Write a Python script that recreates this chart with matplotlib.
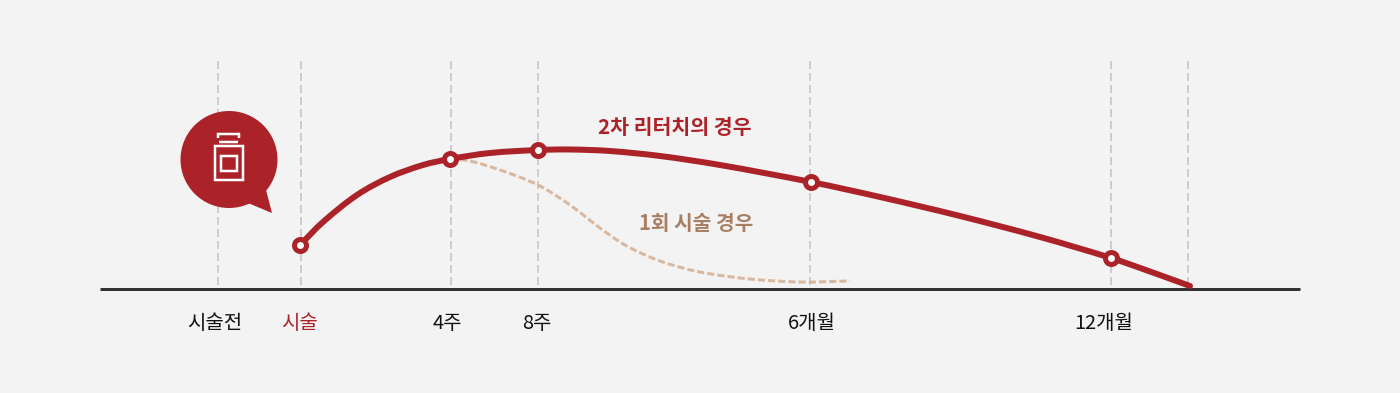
import matplotlib
matplotlib.use('Agg')
from matplotlib import pyplot as plt
from matplotlib.patches import Circle, PathPatch, Polygon, Rectangle
from matplotlib.path import Path

plt.rcParams['font.family'] = ['Noto Sans CJK KR', 'DejaVu Sans']

retouch_x = [300, 323, 357, 390, 423, 450, 490, 538, 570, 610, 660, 720, 811, 880, 960, 1040, 1111, 1150, 1190]
retouch_y = [245, 222, 195, 177, 165, 159, 153, 150, 149.5, 151, 156, 165, 182, 197, 216, 237, 258, 271.5, 286]
once_x = [450, 470, 500, 538, 570, 600, 625, 660, 700, 750, 800, 850]
once_y = [159, 161, 170, 185, 205, 228, 245, 261, 272, 279, 282, 281]

point_x = [300, 450, 538, 811, 1111]
point_y = [245, 159, 150, 182, 258]

guide_x = [218, 301, 451, 538, 810, 1111, 1188]
tick_x = [214.5, 299.5, 447.5, 536.5, 811.5, 1103.5]
tick_labels = ['시술전', '시술', '4주', '8주', '6개월', '12개월']
tick_colors = ['#111111', '#ab2328', '#111111', '#111111', '#111111', '#111111']

RED = '#ab2328'
TAN = '#d9b8a0'
px = 0.72  # one pixel in points


def smooth_path(xs, ys):
    # bezier through the read points, so the line has no corners
    verts = [(xs[0], ys[0])]
    codes = [Path.MOVETO]
    n = len(xs)
    for i in range(n - 1):
        a = max(i - 1, 0)
        b = min(i + 2, n - 1)
        h = xs[i + 1] - xs[i]
        s0 = (ys[i + 1] - ys[a]) / (xs[i + 1] - xs[a])
        s1 = (ys[b] - ys[i]) / (xs[b] - xs[i])
        verts += [(xs[i] + h / 3, ys[i] + s0 * h / 3),
                  (xs[i + 1] - h / 3, ys[i + 1] - s1 * h / 3),
                  (xs[i + 1], ys[i + 1])]
        codes += [Path.CURVE4] * 3
    return Path(verts, codes)


fig = plt.figure(figsize=(14, 3.93), dpi=100, facecolor='#f3f3f3')
ax = fig.add_axes([0, 0, 1, 1])
ax.set_xlim(0, 1400)
ax.set_ylim(393, 0)
ax.axis('off')

ax.vlines(guide_x, 61, 287, color='#cccccc', lw=2 * px, linestyles=(0, (4, 2)), zorder=1)
ax.plot([100, 1300], [289, 289], color='#333333', lw=3 * px, solid_capstyle='butt', zorder=2)

ax.add_patch(PathPatch(smooth_path(once_x, once_y), fc='none', ec=TAN, lw=3 * px,
                       linestyle=(0, (2.4, 1)), zorder=3))
ax.add_patch(PathPatch(smooth_path(retouch_x, retouch_y), fc='none', ec=RED, lw=6 * px,
                       capstyle='round', zorder=4))
ax.plot(point_x, point_y, 'o', ms=12 * px, mfc='white', mec=RED, mew=5 * px, zorder=5)

# speech bubble with the bottle icon
ax.add_patch(Circle((229, 159.5), 48.5, fc=RED, ec='none', zorder=3))
ax.add_patch(Polygon([(248, 203), (272, 213), (265, 186)], fc=RED, ec='none', zorder=3))
ax.add_patch(Rectangle((215, 146), 27.5, 34, fc='none', ec='white', lw=2.5 * px, zorder=4))
ax.add_patch(Rectangle((220.5, 156), 16.5, 15, fc='none', ec='white', lw=2.5 * px, zorder=4))
ax.plot([218, 218, 238.5, 238.5], [138, 134, 134, 138], color='white', lw=2.5 * px,
        solid_joinstyle='miter', solid_capstyle='butt', zorder=4)
ax.plot([219, 238], [142, 142], color='white', lw=2.5 * px, solid_capstyle='butt', zorder=4)

for x, label, c in zip(tick_x, tick_labels, tick_colors):
    ax.text(x, 323.5, label, ha='center', va='center', fontsize=14.4, color=c)

ax.text(674.5, 127.5, '2차 리터치의 경우', ha='center', va='center', fontsize=14.8, fontweight='bold', color=RED)
ax.text(696, 223.5, '1회 시술 경우', ha='center', va='center', fontsize=14.6, fontweight='bold', color='#a87f62')

fig.savefig('out.png', dpi=100, facecolor=fig.get_facecolor())
